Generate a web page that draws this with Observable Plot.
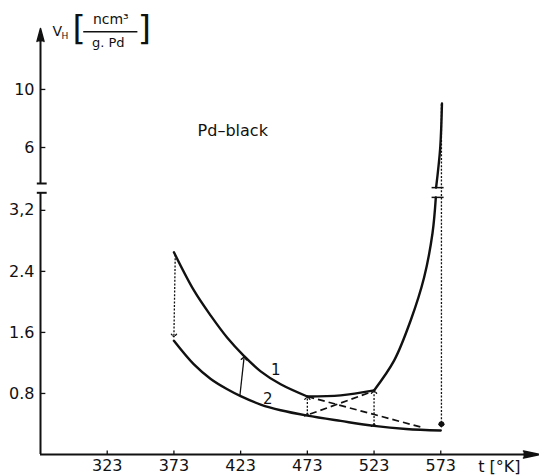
<!DOCTYPE html>
<html><head><meta charset="utf-8">
<script src="https://cdn.jsdelivr.net/npm/d3@7"></script>
<script src="https://cdn.jsdelivr.net/npm/@observablehq/plot@0.6"></script>
<style>body{margin:0;background:#fff} #chart{position:absolute;left:0;top:0}</style>
</head><body><div id="chart"></div>
<script>
// ---- data (temperature in K, V_H in ncm3/g Pd) ----
const xTicks = [323, 373, 423, 473, 523, 573];
const yTicks = [0.8, 1.6, 2.4, 3.2, 6, 10];
const yTickLabels = ["0.8", "1.6", "2.4", "3,2", "6", "10"];

// curve 1 (pieces joined at corners)
const c1aT = [373, 388, 400.6, 413, 425.6, 438, 453, 473];
const c1aV = [2.65, 2.15, 1.82, 1.53, 1.29, 1.09, 0.92, 0.76];
const c1bT = [473, 498, 523];
const c1bV = [0.76, 0.775, 0.84];
const c1cT = [523, 538, 550.5, 560.5, 566.8, 569.3];
const c1cV = [0.84, 1.23, 1.76, 2.32, 2.90, 3.37];
const c1dT = [569.5, 572.6, 573.9];
const c1dV = [3.48, 6.0, 9.03];

// curve 2
const c2T = [373, 388, 400.6, 413, 423, 438, 453, 473, 498, 523, 547, 573];
const c2V = [1.49, 1.18, 0.99, 0.855, 0.765, 0.655, 0.58, 0.51, 0.44, 0.375, 0.335, 0.315];

// vertical transition arrows
const arrNames = ["a373", "a423", "a473", "a523", "a573"];
const arrFromT = [374, 422.5, 473, 523, 573.5];
const arrFromV = [2.62, 0.78, 0.52, 0.385, 9.0];
const arrToT = [373, 425.5, 473, 523, 573.5];
const arrToV = [1.56, 1.26, 0.74, 0.82, 0.38];

// dashed cross lines
const dashFromT = [473, 475];
const dashFromV = [0.76, 0.53];
const dashToT = [558, 521];
const dashToV = [0.36, 0.82];

// ---- build tables ----
const seg = (T, V, id) => T.map((t, i) => ({t, v: V[i], id}));
const curves = [
  ...seg(c1aT, c1aV, "1a"), ...seg(c1bT, c1bV, "1b"), ...seg(c1cT, c1cV, "1c"),
  ...seg(c1dT, c1dV, "1d"), ...seg(c2T, c2V, "2")
];
const arrows = arrNames.map((n, i) => ({n, x1: arrFromT[i], y1: arrFromV[i], x2: arrToT[i], y2: arrToV[i]}));
const dashes = dashFromT.map((t, i) => ({x1: t, y1: dashFromV[i], x2: dashToT[i], y2: dashToV[i]}));

const ink = "#111";
const F = "DejaVu Sans";
const dotted = "2,1.6";

const plot = Plot.plot({
  width: 539, height: 475,
  marginLeft: 40, marginRight: 0, marginTop: 28, marginBottom: 21,
  style: {fontFamily: F, fontSize: "16px", color: ink, background: "#fff"},
  x: {domain: [273, 647], axis: null},
  y: {type: "linear", domain: [0, 3.43, 3.52, 14.2], range: [454, 192.3, 183, 28], axis: null},
  marks: [
    // axes lines
    Plot.ruleY([0], {x1: 273, x2: 637, stroke: ink, strokeWidth: 2}),
    Plot.vector([0], {x: 635, y: 0, length: 17, r: 3.5, rotate: 90, shape: "spike", anchor: "start", fill: ink, stroke: ink}),
    Plot.ruleX([273], {y1: 0, y2: 3.43, stroke: ink, strokeWidth: 2}),
    Plot.ruleX([273], {y1: 3.52, y2: 13.4, stroke: ink, strokeWidth: 2}),
    Plot.vector([0], {x: 273, y: 13.31, length: 13, r: 3.5, shape: "spike", anchor: "start", fill: ink, stroke: ink}),
    Plot.ruleY([3.43, 3.52], {x1: 270.6, x2: 278, stroke: ink, strokeWidth: 2}),
    // tick marks
    Plot.ruleX(xTicks, {y1: 0, y2: 0.045, stroke: ink, strokeWidth: 1.3}),
    Plot.ruleY(yTicks, {x1: 273, x2: 277, stroke: ink, strokeWidth: 1.3}),
    Plot.axisX(xTicks, {tickSize: 0, tickPadding: 5, fontSize: 16, label: null}),
    Plot.axisY(yTicks, {tickSize: 0, tickPadding: 6, fontSize: 16, label: null,
      tickFormat: d => yTickLabels[yTicks.indexOf(d)]}),
    // curves
    Plot.line(curves, {x: "t", y: "v", z: "id", curve: "catmull-rom", stroke: ink, strokeWidth: 2.4}),
    // curve break caps
    Plot.ruleY([3.37, 3.48], {x1: 566.5, x2: 575.5, stroke: ink, strokeWidth: 1.5}),
    // dashed cross lines
    Plot.link(dashes, {x1: "x1", y1: "y1", x2: "x2", y2: "y2", stroke: ink, strokeWidth: 1.7, strokeDasharray: "7,4"}),
    // transition arrows
    Plot.link(arrows.filter(d => d.n === "a373" || d.n === "a573"), {x1: "x1", y1: "y1", x2: "x2", y2: "y2",
      stroke: ink, strokeWidth: 1.3, strokeDasharray: dotted, markerEnd: "arrow"}),
    Plot.link(arrows.filter(d => d.n === "a423"), {x1: "x1", y1: "y1", x2: "x2", y2: "y2",
      stroke: ink, strokeWidth: 1.3, markerEnd: "arrow"}),
    Plot.link(arrows.filter(d => d.n === "a473" || d.n === "a523"), {x1: "x1", y1: "y1", x2: "x2", y2: "y2",
      stroke: ink, strokeWidth: 1.3, strokeDasharray: dotted, markerStart: "arrow", markerEnd: "arrow"}),
    Plot.dot([0], {x: 573.5, y: 0.40, r: 2.8, fill: ink}),
    // texts
    Plot.text(["1"], {x: 449.4, y: 1.10, fontSize: 15, fill: ink}),
    Plot.text(["2"], {x: 443.3, y: 0.72, fontSize: 15, fill: ink}),
    Plot.text(["Pd–black"], {x: 417.1, y: 7.17, fontSize: 16, fill: ink}),
    Plot.text(["t [°K]"], {x: 616.9, y: 0, dy: 12, fontSize: 16, fill: ink}),
    Plot.text(["V"], {x: 285.6, y: 14.0, fontSize: 14, fill: ink}),
    Plot.text(["H"], {x: 291.3, y: 13.70, fontSize: 9, fill: ink}),
    Plot.text(["["], {x: 302, y: 14.14, fontSize: 34, fill: ink}),
    Plot.text(["]"], {x: 350.8, y: 14.14, fontSize: 34, fill: ink}),
    Plot.text(["ncm³"], {x: 325.7, y: 14.83, fontSize: 14, fill: ink}),
    Plot.ruleY([13.97], {x1: 305.4, x2: 346, stroke: ink, strokeWidth: 1.5}),
    Plot.text(["g. Pd"], {x: 323.8, y: 13.24, fontSize: 13, fill: ink})
  ]
});
document.getElementById("chart").appendChild(plot);
</script>
</body></html>
